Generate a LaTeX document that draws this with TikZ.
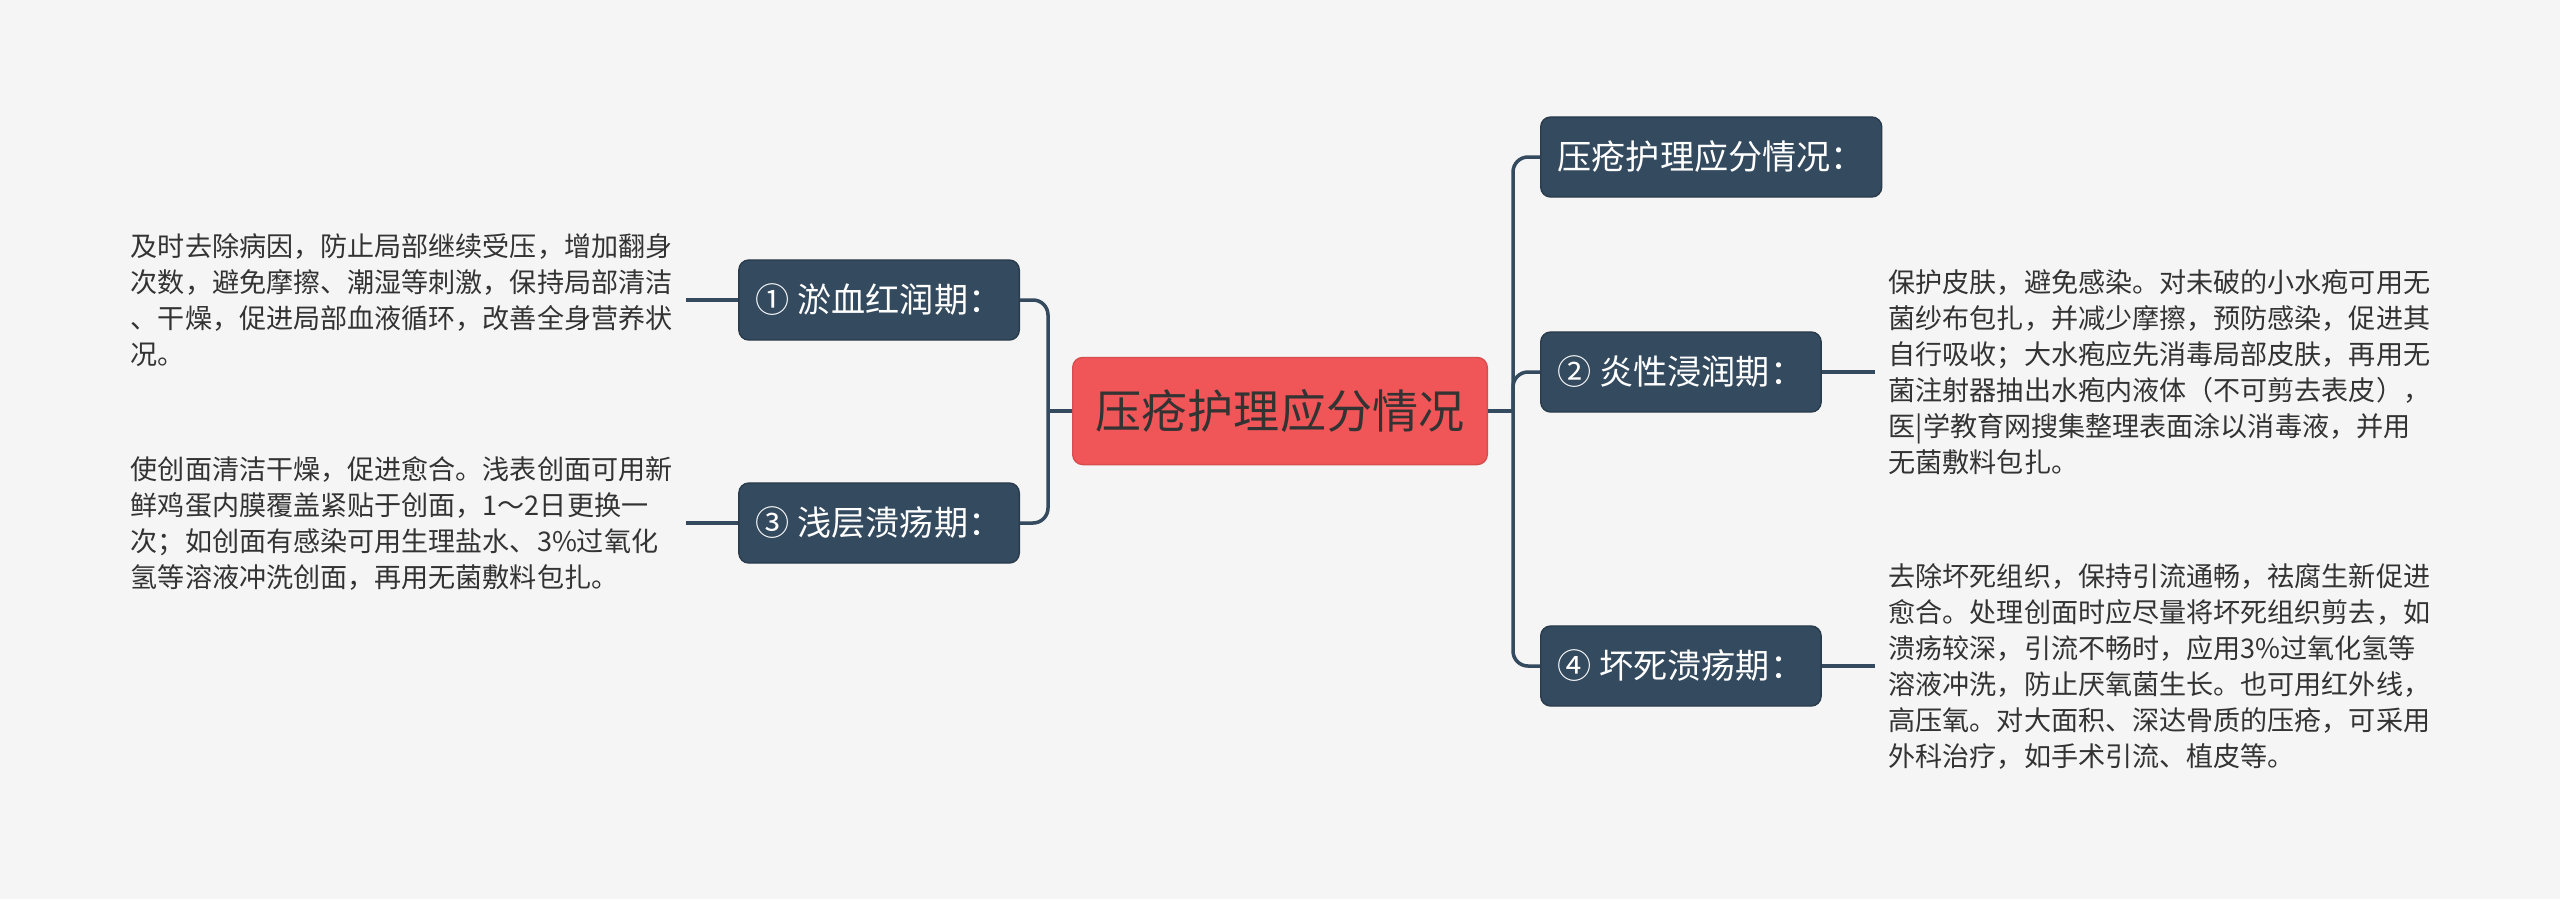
\documentclass[tikz,border=0pt]{standalone}
\usepackage{fontspec}
\setmainfont{Noto Sans CJK SC}
\usepackage{tikz}
\usetikzlibrary{positioning}
\definecolor{bgcol}{HTML}{F5F5F5}
\definecolor{navy}{HTML}{344A5F}
\definecolor{rootred}{HTML}{F05658}
\definecolor{txtgray}{HTML}{333333}
\tikzstyle{rootnode} = [rectangle, rounded corners=0.1cm, fill=rootred, draw=rootred!90!black, line width=0.4pt, text=txtgray, minimum height=1.07cm, inner xsep=0.23cm, font=\fontsize{13.1pt}{15pt}\selectfont]
\tikzstyle{stage} = [rectangle, rounded corners=0.1cm, fill=navy, draw=navy!80!black, line width=0.4pt, text=white, minimum height=0.8cm, inner xsep=0.17cm, font=\fontsize{9.7pt}{12pt}\selectfont]
\tikzstyle{leaf} = [align=left, inner sep=0.13cm, text=txtgray, font=\fontsize{7.7pt}{10.24pt}\selectfont]
\tikzstyle{link} = [navy, line width=1pt, rounded corners=0.15cm]

\begin{document}
\begin{tikzpicture}[x=0.01cm, y=-0.01cm]
        \fill [bgcol] (0,0) rectangle (2560,899);

        % 中心主题
        \node (root) [rootnode] at (1280,411) {压疮护理应分情况};

        % 右侧分支
        \node (s0) [stage, anchor=west] at (1540,157) {压疮护理应分情况：};
        \node (s2) [stage, anchor=west] at (1540,372) {② 炎性浸润期：};
        \node (s4) [stage, anchor=west] at (1540,666) {④ 坏死溃疡期：};

        % 左侧分支
        \node (s1) [stage, anchor=east] at (1020,300) {① 淤血红润期：};
        \node (s3) [stage, anchor=east] at (1020,523) {③ 浅层溃疡期：};

        % 说明文字
        \node (t1) [leaf, left=0.52cm of s1] {及时去除病因，防止局部继续受压，增加翻身\\次数，避免摩擦、潮湿等刺激，保持局部清洁\\、干燥，促进局部血液循环，改善全身营养状\\况。};
        \node (t3) [leaf, left=0.52cm of s3] {使创面清洁干燥，促进愈合。浅表创面可用新\\鲜鸡蛋内膜覆盖紧贴于创面，1～2日更换一\\次；如创面有感染可用生理盐水、3\%过氧化\\氢等溶液冲洗创面，再用无菌敷料包扎。};
        \node (t2) [leaf, right=0.53cm of s2] {保护皮肤，避免感染。对未破的小水疱可用无\\菌纱布包扎，并减少摩擦，预防感染，促进其\\自行吸收；大水疱应先消毒局部皮肤，再用无\\菌注射器抽出水疱内液体（不可剪去表皮），\\医|学教育网搜集整理表面涂以消毒液，并用\\无菌敷料包扎。};
        \node (t4) [leaf, right=0.53cm of s4] {去除坏死组织，保持引流通畅，祛腐生新促进\\愈合。处理创面时应尽量将坏死组织剪去，如\\溃疡较深，引流不畅时，应用3\%过氧化氢等\\溶液冲洗，防止厌氧菌生长。也可用红外线，\\高压氧。对大面积、深达骨质的压疮，可采用\\外科治疗，如手术引流、植皮等。};

        % 连线
        \coordinate (lbus) at (1048,411);
        \coordinate (rbus) at (1513,411);
        \draw [link] (root.west) -- (lbus);
        \draw [link] (lbus) |- (s1.east);
        \draw [link] (lbus) |- (s3.east);
        \draw [link] (root.east) -- (rbus);
        \draw [link] (rbus) |- (s0.west);
        \draw [link] (rbus) |- (s2.west);
        \draw [link] (rbus) |- (s4.west);
        \draw [link] (s1.west) -- (t1.east);
        \draw [link] (s3.west) -- (t3.east);
        \draw [link] (s2.east) -- (t2.west);
        \draw [link] (s4.east) -- (t4.west);
    \end{tikzpicture}
\end{document}
